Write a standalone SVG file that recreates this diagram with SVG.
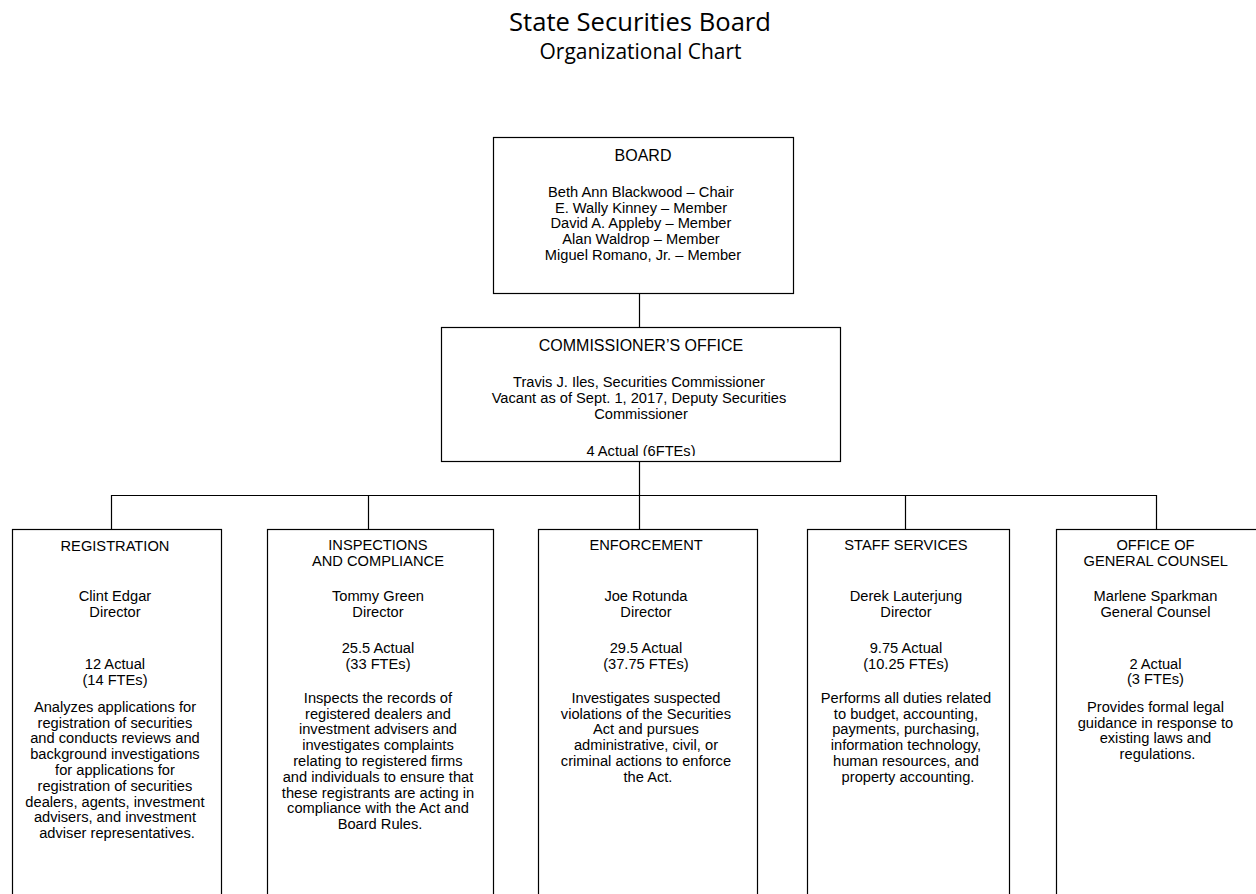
<svg xmlns="http://www.w3.org/2000/svg" width="1256" height="894" viewBox="0 0 1256 894">
<defs>
<style>
.t{font-family:"Liberation Sans",Arial,sans-serif;font-size:14.67px;fill:#000;text-anchor:middle}
.h{font-size:16px}
.title{font-family:"Open Sans","Liberation Sans",sans-serif;fill:#000;text-anchor:middle}
.box{fill:#fff;stroke:#000;stroke-width:1.2}
.ln{stroke:#000;stroke-width:1.2;fill:none}
</style>
<clipPath id="comClip"><rect x="441" y="327" width="400" height="129"/></clipPath>
</defs>
<rect width="1256" height="894" fill="#fff"/>
<text class="title" x="640" y="31" font-size="25.5" textLength="262" lengthAdjust="spacingAndGlyphs">State Securities Board</text>
<text class="title" x="640.5" y="59" font-size="21" textLength="202" lengthAdjust="spacingAndGlyphs">Organizational Chart</text>

<g id="connectors">
<path class="ln" d="M639.5 293 V327 M639.5 462 V495.5 M111.5 495.5 H1156.5 M111.5 495 V529 M368.5 495 V529 M639.5 495 V529 M905.5 495 V529 M1156.5 495 V529"/>
</g>

<g id="board">
<rect class="box" x="493.5" y="137.5" width="300" height="156"/>
<text class="t h" x="643" y="161">BOARD</text>
<text class="t" x="643">
<tspan x="643" y="196.7">Beth Ann Blackwood – Chair</tspan>
<tspan x="643" y="212.5">E. Wally Kinney – Member</tspan>
<tspan x="643" y="228.3">David A. Appleby – Member</tspan>
<tspan x="643" y="244.1">Alan Waldrop – Member</tspan>
<tspan x="643" y="259.9">Miguel Romano, Jr. – Member</tspan>
</text>
</g>

<g id="commissioner">
<rect class="box" x="441.5" y="327.5" width="399" height="134"/>
<text class="t h" x="641" y="350.5">COMMISSIONER’S OFFICE</text>
<text class="t">
<tspan x="641" y="387">Travis J. Iles, Securities Commissioner</tspan>
<tspan x="641" y="403">Vacant as of Sept. 1, 2017, Deputy Securities</tspan>
<tspan x="641" y="419">Commissioner</tspan>
</text>
<text class="t" x="641" y="456" clip-path="url(#comClip)">4 Actual (6FTEs)</text>
</g>

<g id="registration">
<rect class="box" x="12.5" y="529.5" width="209" height="380"/>
<text class="t">
<tspan x="117" y="550.5">REGISTRATION</tspan>
<tspan x="117" y="601">Clint Edgar</tspan>
<tspan x="117" y="616.8">Director</tspan>
<tspan x="117" y="669">12 Actual</tspan>
<tspan x="117" y="684.8">(14 FTEs)</tspan>
<tspan x="117" y="711.7">Analyzes applications for</tspan>
<tspan x="117" y="727.5">registration of securities</tspan>
<tspan x="117" y="743.3">and conducts reviews and</tspan>
<tspan x="117" y="759.1">background investigations</tspan>
<tspan x="117" y="774.9">for applications for</tspan>
<tspan x="117" y="790.7">registration of securities</tspan>
<tspan x="117" y="806.5">dealers, agents, investment</tspan>
<tspan x="117" y="822.3">advisers, and investment</tspan>
<tspan x="117" y="838.1">adviser representatives.</tspan>
</text>
</g>

<g id="inspections">
<rect class="box" x="267.5" y="529.5" width="226" height="380"/>
<text class="t">
<tspan x="380" y="550">INSPECTIONS</tspan>
<tspan x="380" y="566">AND COMPLIANCE</tspan>
<tspan x="380" y="600.7">Tommy Green</tspan>
<tspan x="380" y="616.5">Director</tspan>
<tspan x="380" y="652.7">25.5 Actual</tspan>
<tspan x="380" y="668.5">(33 FTEs)</tspan>
<tspan x="380" y="702.7">Inspects the records of</tspan>
<tspan x="380" y="718.5">registered dealers and</tspan>
<tspan x="380" y="734.3">investment advisers and</tspan>
<tspan x="380" y="750.1">investigates complaints</tspan>
<tspan x="380" y="765.9">relating to registered firms</tspan>
<tspan x="380" y="781.7">and individuals to ensure that</tspan>
<tspan x="380" y="797.5">these registrants are acting in</tspan>
<tspan x="380" y="813.3">compliance with the Act and</tspan>
<tspan x="380" y="829.1">Board Rules.</tspan>
</text>
</g>

<g id="enforcement">
<rect class="box" x="538.5" y="529.5" width="219" height="380"/>
<text class="t">
<tspan x="648" y="550">ENFORCEMENT</tspan>
<tspan x="648" y="600.7">Joe Rotunda</tspan>
<tspan x="648" y="616.5">Director</tspan>
<tspan x="648" y="652.7">29.5 Actual</tspan>
<tspan x="648" y="668.5">(37.75 FTEs)</tspan>
<tspan x="648" y="702.7">Investigates suspected</tspan>
<tspan x="648" y="718.5">violations of the Securities</tspan>
<tspan x="648" y="734.3">Act and pursues</tspan>
<tspan x="648" y="750.1">administrative, civil, or</tspan>
<tspan x="648" y="765.9">criminal actions to enforce</tspan>
<tspan x="648" y="781.7">the Act.</tspan>
</text>
</g>

<g id="staff-services">
<rect class="box" x="807.5" y="529.5" width="202" height="380"/>
<text class="t">
<tspan x="908" y="550">STAFF SERVICES</tspan>
<tspan x="908" y="600.7">Derek Lauterjung</tspan>
<tspan x="908" y="616.5">Director</tspan>
<tspan x="908" y="652.7">9.75 Actual</tspan>
<tspan x="908" y="668.5">(10.25 FTEs)</tspan>
<tspan x="908" y="702.7">Performs all duties related</tspan>
<tspan x="908" y="718.5">to budget, accounting,</tspan>
<tspan x="908" y="734.3">payments, purchasing,</tspan>
<tspan x="908" y="750.1">information technology,</tspan>
<tspan x="908" y="765.9">human resources, and</tspan>
<tspan x="908" y="781.7">property accounting.</tspan>
</text>
</g>

<g id="general-counsel">
<rect class="box" x="1056.5" y="529.5" width="210" height="380"/>
<text class="t">
<tspan x="1157.5" y="550">OFFICE OF</tspan>
<tspan x="1157.5" y="566">GENERAL COUNSEL</tspan>
<tspan x="1157.5" y="600.7">Marlene Sparkman</tspan>
<tspan x="1157.5" y="616.5">General Counsel</tspan>
<tspan x="1157.5" y="668.5">2 Actual</tspan>
<tspan x="1157.5" y="684.3">(3 FTEs)</tspan>
<tspan x="1157.5" y="711.7">Provides formal legal</tspan>
<tspan x="1157.5" y="727.5">guidance in response to</tspan>
<tspan x="1157.5" y="743.3">existing laws and</tspan>
<tspan x="1157.5" y="759.1">regulations.</tspan>
</text>
</g>
</svg>
